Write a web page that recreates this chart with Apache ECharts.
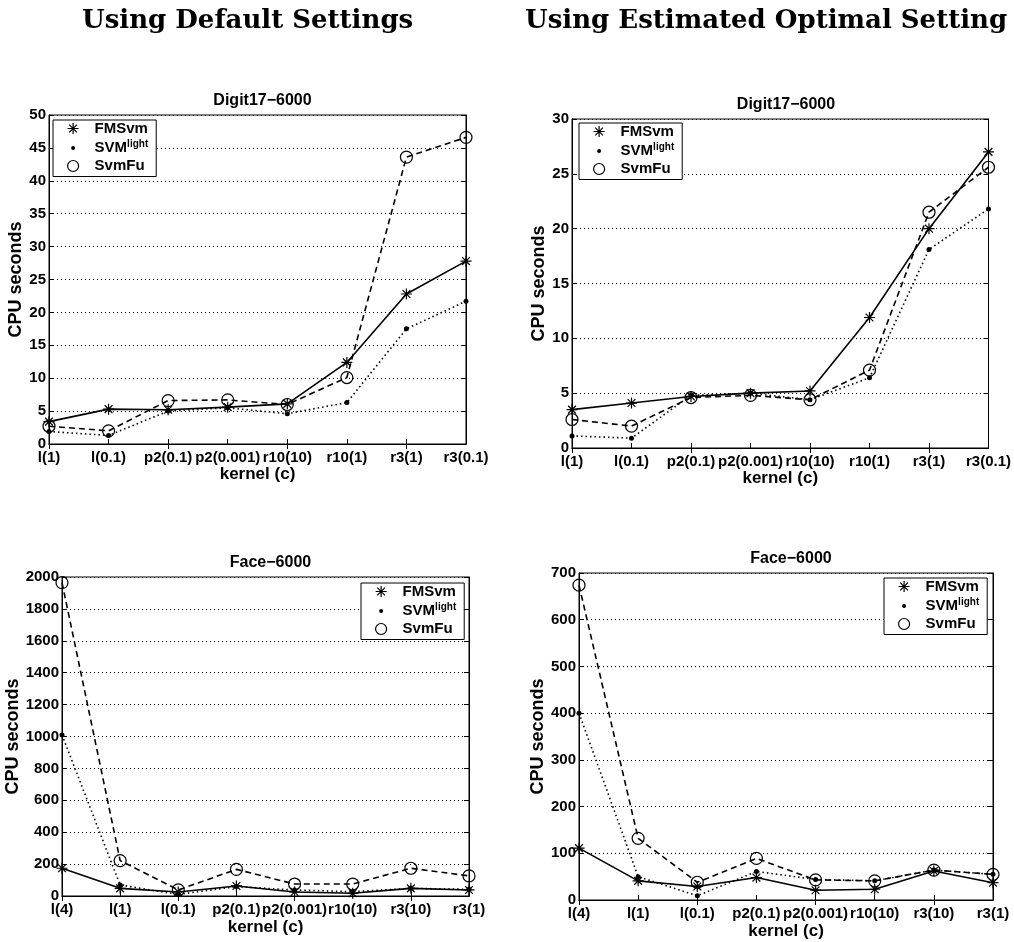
<!DOCTYPE html>
<html><head><meta charset="utf-8">
<script src="https://cdn.jsdelivr.net/npm/echarts@6/dist/echarts.min.js"></script>
<style>html,body{margin:0;padding:0;background:#fff}#c{width:1014px;height:942px}</style>
</head><body><div id="c"></div>
<script>
// Categories
const catsDigit = ['l(1)','l(0.1)','p2(0.1)','p2(0.001)','r10(10)','r10(1)','r3(1)','r3(0.1)'];
const catsFace = ['l(4)','l(1)','l(0.1)','p2(0.1)','p2(0.001)','r10(10)','r3(10)','r3(1)'];
// Digit17-6000, default settings
const digitDefFMS   = [3.4, 5.3, 5.2, 5.6, 6.1, 12.4, 22.8, 27.8];
const digitDefLight = [1.9, 1.3, 5.0, 5.5, 4.6, 6.3, 17.5, 21.7];
const digitDefFu    = [2.7, 2.0, 6.6, 6.7, 6.0, 10.1, 43.6, 46.6];
// Digit17-6000, estimated optimal
const digitOptFMS   = [3.5, 4.1, 4.7, 5.0, 5.2, 11.9, 20.0, 27.0];
const digitOptLight = [1.1, 0.9, 4.8, 5.0, 4.4, 6.4, 18.1, 21.8];
const digitOptFu    = [2.6, 2.0, 4.6, 4.8, 4.4, 7.1, 21.5, 25.6];
// Face-6000, default settings
const faceDefFMS   = [174, 48, 25, 63, 25, 17, 48, 38];
const faceDefLight = [1010, 69, 10, 59, 38, 27, 48, 42];
const faceDefFu    = [1965, 222, 38, 167, 75, 75, 174, 126];
// Face-6000, estimated optimal
const faceOptFMS   = [111, 41, 29, 48, 21, 23, 62, 37];
const faceOptLight = [400, 50, 9, 61, 44, 41, 64, 55];
const faceOptFu    = [674, 132, 38, 89, 43, 41, 64, 55];
// Y axis ranges
const yMax = [50, 30, 2000, 700];
const yStep = [5, 5, 200, 100];
const panelTitles = ['Digit17\u22126000','Digit17\u22126000','Face\u22126000','Face\u22126000'];
const pageTitles = ['Using Default Settings','Using Estimated Optimal Setting'];

const SANS = 'Liberation Sans, Arial, sans-serif';
const STAR = 'path://M0,-10L0,10M-10,0L10,0M-7.07,-7.07L7.07,7.07M-7.07,7.07L7.07,-7.07';
const SMALLDOT = 'path://M-10,-10M10,10M-3.6,0A3.6,3.6,0,1,0,3.6,0A3.6,3.6,0,1,0,-3.6,0Z';

const grids = [
  {left:49, top:115, width:417, height:329},
  {left:572, top:119, width:418, height:329},
  {left:62, top:577, width:407, height:319},
  {left:579, top:573, width:414, height:327}
];
const cats = [catsDigit, catsDigit, catsFace, catsFace];
const dataSets = [
  [digitDefFMS, digitDefLight, digitDefFu],
  [digitOptFMS, digitOptLight, digitOptFu],
  [faceDefFMS, faceDefLight, faceDefFu],
  [faceOptFMS, faceOptLight, faceOptFu]
];
const yNameGap = [19, 18, 36, 26];
const xNameGap = [22, 22, 23, 23];
const legendPos = [
  {left:53, top:120}, {left:579, top:123}, {left:361, top:583}, {left:884, top:578}
];

const option = {
  backgroundColor:'#fff',
  animation:false,
  title:[],
  grid:[], xAxis:[], yAxis:[], series:[], legend:[]
};
pageTitles.forEach((t,i)=>{
  option.title.push({text:t, left: i===0 ? 82 : 525, top: 8, padding:0,
    textStyle:{fontFamily:'DejaVu Serif, serif', fontWeight:'bold', fontSize:26, color:'#000'}});
});
grids.forEach((g,i)=>{
  option.grid.push(Object.assign({show:true, borderColor:'#000', borderWidth:1, backgroundColor:'transparent', containLabel:false}, g));
  option.title.push({text:panelTitles[i], left: g.left + g.width/2, textAlign:'center', top: g.top - 27,
    textStyle:{fontFamily:SANS, fontWeight:'bold', fontSize:16, color:'#000'}});
  option.xAxis.push({type:'category', gridIndex:i, data:cats[i], boundaryGap:false, position:'bottom',
    name:'kernel (c)', nameLocation:'middle', nameGap:xNameGap[i],
    nameTextStyle:{fontFamily:SANS, fontWeight:'bold', fontSize:17, color:'#000'},
    axisLine:{show:true, lineStyle:{color:'#000', width:1}},
    axisTick:{show:true, inside:true, length:5, alignWithLabel:true, lineStyle:{color:'#000'}},
    axisLabel:{interval:0, margin:6, fontFamily:SANS, fontWeight:'bold', fontSize:15, color:'#000'},
    splitLine:{show:false}});
  option.yAxis.push({type:'value', gridIndex:i, min:0, max:yMax[i], interval:yStep[i],
    name:'CPU seconds', nameLocation:'middle', nameGap:yNameGap[i], nameRotate:90,
    nameTextStyle:{fontFamily:SANS, fontWeight:'bold', fontSize:18, color:'#000'},
    axisLine:{show:true, lineStyle:{color:'#000', width:1}},
    axisTick:{show:true, inside:true, length:5, lineStyle:{color:'#000'}},
    axisLabel:{margin:3, fontFamily:SANS, fontWeight:'bold', fontSize:15, color:'#000', formatter: v => String(v)},
    splitLine:{show:true, lineStyle:{color:'#000', type:[1,3], width:1}}});
});
grids.forEach((g,i)=>{
  option.xAxis.push({type:'category', gridIndex:i, data:cats[i], boundaryGap:false, position:'top',
    axisLine:{show:true, lineStyle:{color:'#000'}},
    axisTick:{show:true, inside:true, length:5, lineStyle:{color:'#000'}},
    axisLabel:{show:false}, splitLine:{show:false}});
  option.yAxis.push({type:'value', gridIndex:i, min:0, max:yMax[i], interval:yStep[i], position:'right',
    axisLine:{show:true, lineStyle:{color:'#000'}},
    axisTick:{show:true, inside:true, length:5, lineStyle:{color:'#000'}},
    axisLabel:{show:false}, splitLine:{show:false}});
});
const names = ['FMSvm','SVMlight','SvmFu'];
dataSets.forEach((ds,i)=>{
  option.series.push({name:names[0], type:'line', xAxisIndex:i, yAxisIndex:i, data:ds[0],
    symbol:STAR, symbolSize:11, showAllSymbol:true, z:3,
    itemStyle:{color:'transparent', borderColor:'#000', borderWidth:1.2},
    lineStyle:{color:'#000', width:1.6, type:'solid'}, emphasis:{disabled:true}});
  option.series.push({name:names[1], type:'line', xAxisIndex:i, yAxisIndex:i, data:ds[1],
    symbol:'circle', symbolSize:5, showAllSymbol:true, z:4,
    itemStyle:{color:'#000', borderColor:'#000', borderWidth:0},
    lineStyle:{color:'#000', width:1.6, type:[1.5,3]}, emphasis:{disabled:true}});
  option.series.push({name:names[2], type:'line', xAxisIndex:i, yAxisIndex:i, data:ds[2],
    symbol:'circle', symbolSize:12, showAllSymbol:true, z:3,
    itemStyle:{color:'transparent', borderColor:'#000', borderWidth:1.2},
    lineStyle:{color:'#000', width:1.6, type:[6,4]}, emphasis:{disabled:true}});
});
legendPos.forEach((p,i)=>{
  option.legend.push({left:p.left, top:p.top, orient:'vertical', selectedMode:false,
    data:[{name:'FMSvm', icon:STAR, itemStyle:{color:'transparent', borderColor:'#000', borderWidth:1.2}},
          {name:'SVMlight', icon:SMALLDOT, itemStyle:{color:'#000', borderWidth:0}},
          {name:'SvmFu', icon:'circle', itemStyle:{color:'transparent', borderColor:'#000', borderWidth:1.2}}],
    itemWidth:11, itemHeight:11, itemGap:3, padding:[1,8,3,14],
    backgroundColor:'#fff', borderColor:'#000', borderWidth:1,
    formatter: n => n==='SVMlight' ? 'SVM{sup|light}' : n,
    textStyle:{fontFamily:SANS, fontWeight:'bold', fontSize:15, color:'#000', padding:[0,0,0,11],
      rich:{sup:{fontFamily:SANS, fontWeight:'bold', fontSize:10, color:'#000', verticalAlign:'top', padding:[0,0,8,0]}}}
  });
});
const chart = echarts.init(document.getElementById('c'), null, {renderer:'canvas'});
chart.setOption(option);
</script>
</body></html>
